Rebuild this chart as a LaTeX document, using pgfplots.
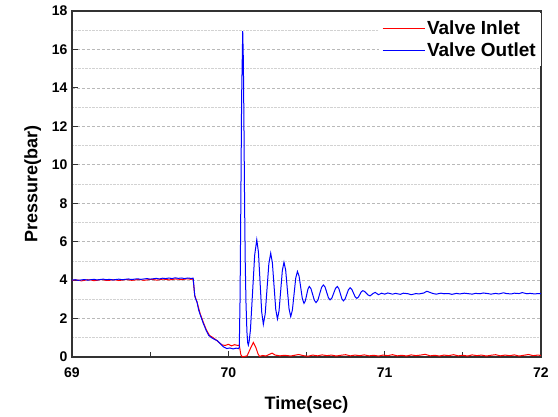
\documentclass[border=0pt]{standalone}
\usepackage{fontspec}
\setmainfont{Liberation Sans}
\usepackage{pgfplots}
\pgfplotsset{compat=1.18}

\begin{document}
\begin{tikzpicture}
\useasboundingbox (-72pt,-59pt) rectangle (486pt,357pt);
\begin{axis}[
  scale only axis, width=469pt, height=346pt,
  xmin=69, xmax=72, ymin=0, ymax=18,
  xtick={69,70,71,72}, minor xtick={69.5,70.5,71.5},
  ytick={0,2,...,18}, minor ytick={1,3,...,17},
  tick align=inside, major tick length=6pt, minor tick length=5pt,
  minor y tick style={draw=none},
  xtick pos=bottom, ytick pos=left,
  ymajorgrids, yminorgrids,
  major grid style={densely dashed, gray!55, line width=0.6pt},
  minor grid style={densely dotted, gray!35, line width=0.6pt},
  axis line style={black!80, line width=1.3pt},
  tick style={black!80, line width=1pt},
  ticklabel style={font=\bfseries\fontsize{14}{16}\selectfont},
  /pgf/number format/assume math mode=true,
  xticklabel style={yshift=-7pt},
  yticklabel style={xshift=-1pt},
  xlabel={\bfseries Time(sec)}, ylabel={\bfseries Pressure(bar)},
  label style={font=\bfseries\fontsize{18}{20}\selectfont},
  xlabel style={yshift=-12pt},
  ylabel style={yshift=4pt},
  legend style={at={(1,1)}, anchor=north east, draw=none, fill=white,
    font=\bfseries\fontsize{19}{22}\selectfont, inner xsep=3pt, inner ysep=6pt,
    row sep=2pt, yshift=-2pt},
  legend cell align=left,
  legend image code/.code={\draw[#1] (-4pt,0pt) -- (38pt,0pt);},
]
\addplot[red, line width=1pt] coordinates {
 (69.00,3.98) (69.02,4.01) (69.04,4.00) (69.06,3.96) (69.08,3.99) (69.10,4.02) (69.12,4.01)
 (69.14,3.97) (69.16,3.99) (69.18,4.03) (69.20,4.02) (69.22,3.98) (69.24,3.99) (69.26,4.02)
 (69.28,4.01) (69.30,3.98) (69.32,4.00) (69.34,4.03) (69.36,4.02) (69.38,3.99) (69.40,4.00)
 (69.42,4.03) (69.44,4.02) (69.46,3.99) (69.48,4.01) (69.50,4.04) (69.52,4.03) (69.54,4.00)
 (69.56,4.02) (69.58,4.05) (69.60,4.04) (69.62,4.01) (69.64,4.03) (69.66,4.06) (69.68,4.05)
 (69.70,4.02) (69.72,4.05) (69.74,4.07) (69.76,4.04) (69.775,4.06)
 (69.785,3.2) (69.80,2.85) (69.82,2.25) (69.84,1.8) (69.86,1.4) (69.88,1.12) (69.90,1.02)
 (69.92,0.9) (69.94,0.76) (69.96,0.63) (69.98,0.6) (70.00,0.66) (70.02,0.58) (70.04,0.64)
 (70.06,0.6) (70.07,0.62) (70.08,0.12) (70.09,0.0) (70.10,0.02) (70.12,0.06) (70.14,0.42)
 (70.16,0.76) (70.175,0.52) (70.19,0.16) (70.20,0.03) (70.22,0.08) (70.24,0.05) (70.26,0.13)
 (70.28,0.2) (70.30,0.1) (70.33,0.06) (70.36,0.09) (70.40,0.05) (70.43,0.10) (70.45,0.13)
 (70.48,0.07) (70.51,0.04) (70.54,0.10) (70.57,0.06) (70.60,0.11) (70.63,0.07) (70.66,0.10)
 (70.69,0.05) (70.72,0.09) (70.75,0.12) (70.78,0.06) (70.81,0.10) (70.84,0.07) (70.87,0.11)
 (70.90,0.06) (70.93,0.09) (70.96,0.05) (70.99,0.10) (71.02,0.07) (71.05,0.12) (71.08,0.06)
 (71.11,0.09) (71.14,0.05) (71.17,0.11) (71.20,0.07) (71.23,0.10) (71.26,0.14) (71.29,0.06)
 (71.32,0.09) (71.35,0.05) (71.38,0.10) (71.41,0.07) (71.44,0.12) (71.47,0.06) (71.50,0.09)
 (71.53,0.05) (71.56,0.11) (71.59,0.07) (71.62,0.10) (71.65,0.05) (71.68,0.09) (71.71,0.12)
 (71.74,0.06) (71.77,0.10) (71.80,0.07) (71.83,0.11) (71.86,0.05) (71.89,0.09) (71.92,0.13)
 (71.95,0.07) (71.98,0.10) (72.00,0.08)
};
\addlegendentry{Valve Inlet}
\addplot[blue, line width=1pt] coordinates {
 (69.00,4.00) (69.02,4.02) (69.04,3.99) (69.06,4.01) (69.08,4.03) (69.10,4.00) (69.12,4.02)
 (69.14,4.04) (69.16,4.01) (69.18,4.03) (69.20,4.05) (69.22,4.02) (69.24,4.04) (69.26,4.01)
 (69.28,4.03) (69.30,4.05) (69.32,4.02) (69.34,4.04) (69.36,4.06) (69.38,4.03) (69.40,4.05)
 (69.42,4.07) (69.44,4.04) (69.46,4.06) (69.48,4.08) (69.50,4.05) (69.52,4.07) (69.54,4.09)
 (69.56,4.06) (69.58,4.10) (69.60,4.08) (69.62,4.11) (69.64,4.08) (69.66,4.12) (69.68,4.09)
 (69.70,4.11) (69.72,4.08) (69.74,4.11) (69.76,4.09) (69.775,4.10)
 (69.785,3.2) (69.79,3.05) (69.80,2.85) (69.81,2.45) (69.82,2.2) (69.84,1.75) (69.86,1.35)
 (69.875,1.12) (69.89,1.02) (69.91,0.92) (69.93,0.85) (69.95,0.68) (69.97,0.52) (69.99,0.44)
 (70.01,0.47) (70.03,0.42) (70.05,0.46) (70.065,0.44) (70.07,0.5)
 (70.075,3.0) (70.08,8.0) (70.085,13.5) (70.092,16.95)
 (70.096,15.5) (70.100,12.0) (70.104,8.0) (70.108,5.0) (70.113,2.8) (70.119,1.3)
 (70.124,0.75) (70.128,0.62) (70.133,0.8)
 (70.1415,1.42) (70.155,3.36) (70.1685,5.30) (70.182,6.1)
 (70.1925,5.46) (70.203,3.90) (70.2135,2.34) (70.224,1.7)
 (70.2358,2.24) (70.2475,3.55) (70.2593,4.86) (70.271,5.4)
 (70.2818,4.90) (70.2925,3.69) (70.3033,2.48) (70.314,1.98)
 (70.3245,2.41) (70.335,3.455) (70.3455,4.50) (70.356,4.93)
 (70.3668,4.52) (70.3775,3.515) (70.3883,2.51) (70.399,2.1)
 (70.4098,2.44) (70.4205,3.275) (70.4313,4.11) (70.442,4.45)
 (70.4525,4.21) (70.463,3.62) (70.4735,3.03) (70.484,2.79)
 (70.4925,2.92) (70.501,3.23) (70.5095,3.54) (70.518,3.67)
 (70.5288,3.55) (70.5395,3.25) (70.5503,2.95) (70.561,2.83)
 (70.5728,2.96) (70.5845,3.29) (70.5963,3.62) (70.608,3.75)
 (70.6188,3.64) (70.6295,3.36) (70.6403,3.08) (70.651,2.97)
 (70.6625,3.07) (70.674,3.32) (70.6855,3.57) (70.697,3.67)
 (70.7068,3.56) (70.7165,3.295) (70.7263,3.03) (70.736,2.92)
 (70.7468,3.02) (70.7575,3.26) (70.7683,3.50) (70.779,3.6)
 (70.7898,3.52) (70.8005,3.325) (70.8113,3.13) (70.822,3.05)
 (70.8315,3.11) (70.841,3.25) (70.8505,3.39) (70.86,3.45)
 (70.8718,3.41) (70.8835,3.315) (70.8953,3.22) (70.907,3.18)
 (70.925,3.3) (70.94,3.36) (70.96,3.24) (70.98,3.32) (71.00,3.27)
 (71.02,3.33) (71.05,3.27) (71.07,3.31) (71.10,3.26) (71.12,3.32) (71.15,3.29) (71.17,3.24)
 (71.20,3.30) (71.22,3.28) (71.25,3.33) (71.27,3.42) (71.29,3.36) (71.31,3.30) (71.33,3.27)
 (71.36,3.32) (71.38,3.29) (71.41,3.30) (71.43,3.26) (71.46,3.31) (71.48,3.28) (71.51,3.32)
 (71.53,3.30) (71.56,3.27) (71.58,3.31) (71.61,3.29) (71.63,3.33) (71.66,3.30) (71.68,3.27)
 (71.71,3.31) (71.73,3.28) (71.76,3.34) (71.78,3.30) (71.81,3.28) (71.83,3.32) (71.86,3.30)
 (71.88,3.35) (71.91,3.29) (71.93,3.31) (71.96,3.28) (71.98,3.30) (72.00,3.29)
};
\addlegendentry{Valve Outlet}
\end{axis}
\end{tikzpicture}
\end{document}
